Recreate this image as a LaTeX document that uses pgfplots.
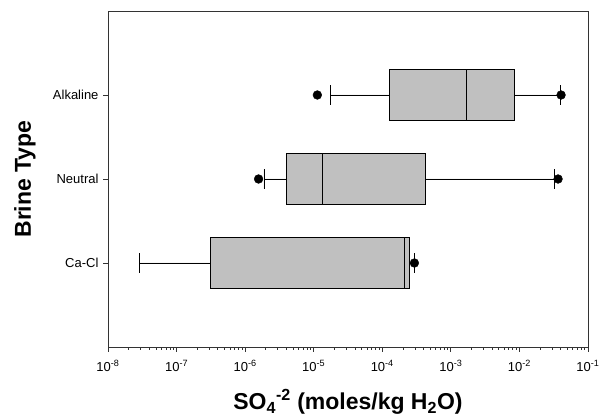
\documentclass[border=0pt]{standalone}
\usepackage{pgfplots}
\pgfplotsset{compat=1.18}
\usepgfplotslibrary{statistics}
\usepackage{fontspec}
\setmainfont{Liberation Sans}
\definecolor{boxgray}{RGB}{192,192,192}
\begin{document}
\begin{tikzpicture}[x=1pt,y=1pt]
\begin{axis}[
  at={(0,0)}, anchor=south west,
  scale only axis, width=480pt, height=336pt,
  xmode=log, xmin=1e-8, xmax=1e-1,
  ymin=0, ymax=4,
  ytick={1,2,3}, yticklabels={Ca-Cl,Neutral,Alkaline},
  xtick={1e-8,1e-7,1e-6,1e-5,1e-4,1e-3,1e-2,1e-1},
  xticklabels={10\textsuperscript{-8},10\textsuperscript{-7},10\textsuperscript{-6},10\textsuperscript{-5},10\textsuperscript{-4},10\textsuperscript{-3},10\textsuperscript{-2},10\textsuperscript{-1}},
  minor tick num=0,
  tick align=outside, tick pos=left,
  major tick length=5pt,
  axis line style={line width=0.8pt, black!80},
  every tick/.style={line width=0.8pt, black!80},
  tick label style={font=\fontsize{13}{15}\selectfont},
  xticklabel style={yshift=-5pt},
  yticklabel style={xshift=-1pt},
  xlabel={SO\textsubscript{4}\textsuperscript{-2} (moles/kg H\textsubscript{2}O)},
  ylabel={Brine Type},
  xlabel style={font=\fontsize{23}{26}\selectfont\bfseries, at={(axis description cs:0.5,-0.1875)}, anchor=base},
  ylabel style={font=\fontsize{23}{26}\selectfont\bfseries, at={(axis description cs:-0.173,0.5)}, anchor=center},
  boxplot/box extend=0.6,
  boxplot/whisker extend=0.23,
]
% Alkaline
\addplot[boxplot prepared={lower whisker=1.77e-5, lower quartile=1.27e-4, median=1.69e-3, upper quartile=8.51e-3, upper whisker=3.95e-2, draw position=3}, fill=boxgray, draw=black, line width=0.8pt] coordinates {};
% Neutral
\addplot[boxplot prepared={lower whisker=1.88e-6, lower quartile=4.03e-6, median=1.34e-5, upper quartile=4.27e-4, upper whisker=3.23e-2, draw position=2}, fill=boxgray, draw=black, line width=0.8pt] coordinates {};
% Ca-Cl
\addplot[boxplot prepared={lower whisker=2.87e-8, lower quartile=3.09e-7, median=2.13e-4, upper quartile=2.49e-4, upper whisker=2.91e-4, draw position=1}, fill=boxgray, draw=black, line width=0.8pt] coordinates {};
% outliers
\addplot[only marks, mark=*, mark size=4.4pt, black] coordinates {
 (1.13e-5,3) (4.05e-2,3)
 (1.57e-6,2) (3.66e-2,2)
 (2.94e-4,1)
};
\end{axis}
\path (-108pt,-72pt) rectangle (501pt,347pt);
\end{tikzpicture}
\end{document}
